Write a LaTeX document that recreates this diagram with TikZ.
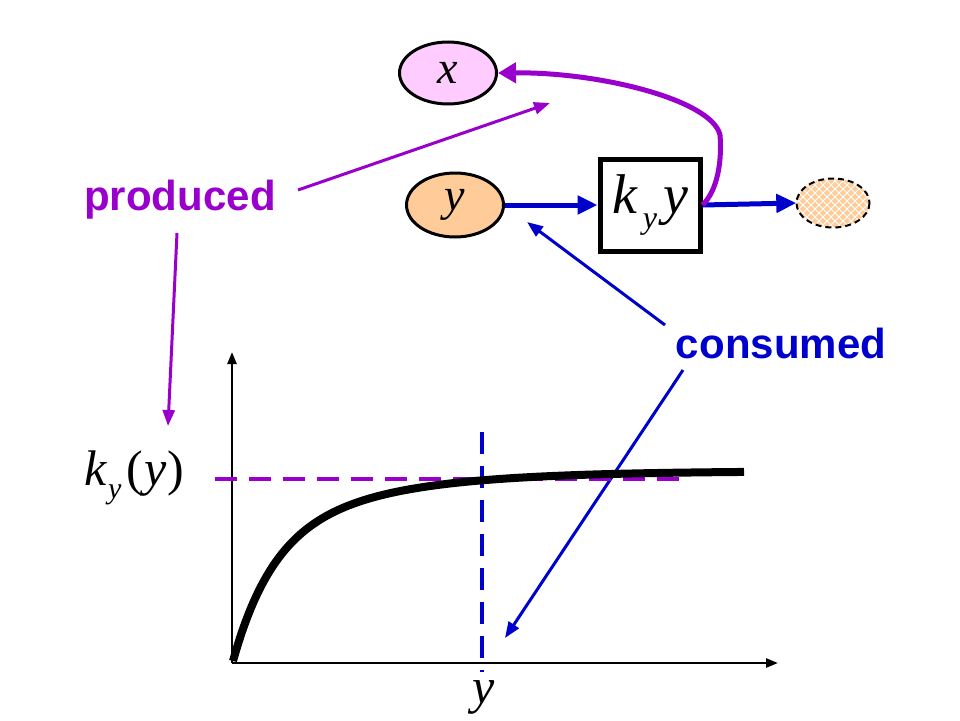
\documentclass[tikz,border=0pt]{standalone}
\usepackage{fontspec}
\setmainfont{Liberation Sans}
\newfontfamily\tms{Liberation Serif}
\usetikzlibrary{arrows.meta,shapes.geometric}
\definecolor{pur}{HTML}{9900CC}
\definecolor{blu}{HTML}{0000CC}
\definecolor{pinkc}{HTML}{FFCCFF}
\definecolor{orc}{HTML}{FFCC99}
\newcommand\itx[2]{{\fontsize{#1}{#1}\selectfont\tms\itshape #2}}
\newcommand\upr[2]{{\fontsize{#1}{#1}\selectfont\tms #2}}
\begin{document}
\begin{tikzpicture}[x=1pt,y=-1pt,
  species/.style={ellipse,draw,line width=3pt,inner sep=0pt},
  bluarrow/.style={draw=blu,line width=5pt,-{Triangle[length=20pt,width=18pt]}},
  purthin/.style={draw=pur,line width=3pt,-{Triangle[length=16pt,width=12pt]}},
  bluthin/.style={draw=blu,line width=3pt,-{Triangle[length=16pt,width=12pt]}},
  lbl/.style={font=\fontsize{42}{42}\selectfont\bfseries}]
\useasboundingbox (0,0) rectangle (960,720);
\fill[white] (0,0) rectangle (960,720);

% species
\node[species,fill=pinkc,minimum width=97,minimum height=62] (x) at (448,73) {\itx{46}{x}};
\node[species,fill=orc,minimum width=97,minimum height=64] (y) at (455,205) {\itx{46}{y}};
\node[draw,line width=5pt,minimum width=100,minimum height=92,inner sep=0pt] (box) at (650,205)
  {\itx{56}{k}\kern6pt\raisebox{-15pt}{\itx{32}{y}}\kern6pt\itx{56}{y}};
\node[ellipse,minimum width=73,minimum height=49,inner sep=0pt] (sink) at (833,203) {};
\begin{scope}
  \clip (833,203) ellipse [x radius=36.5, y radius=24.5];
  \fill[white] (790,175) rectangle (875,230);
  \foreach \i in {0,...,11}{
    \foreach \j in {0,...,7}{
      \fill[orc] ({795+\i*8},{177+\j*8}) ++(0,-3.2) -- ++(3.2,3.2) -- ++(-3.2,3.2) -- ++(-3.2,-3.2) -- cycle;
      \fill[orc] ({799+\i*8},{181+\j*8}) ++(0,-3.2) -- ++(3.2,3.2) -- ++(-3.2,3.2) -- ++(-3.2,-3.2) -- cycle;
    }}
\end{scope}
\draw[line width=2pt,dashed,dash pattern=on 6pt off 4pt] (sink.center) ellipse [x radius=36.5, y radius=24.5];

% reaction arrows
\draw[bluarrow] (y.east) -- (box.west);
\draw[bluarrow] (box.east) -- (sink.west);
\draw[draw=pur,line width=5pt,-{Triangle[length=18pt,width=20pt]}]
  (box.east) .. controls (718,190) and (722,160) .. (720,135)
  .. controls (712,100) and (600,72) .. (x.east);

% labels
\node[lbl,text=pur] (prod) at (180,200) {produced};
\node[lbl,text=blu] (cons) at (781,343) {consumed};
\coordinate (pt1) at (550,103);
\coordinate (pt2) at (168,426);
\coordinate (ct1) at (527,222);
\coordinate (ct2) at (505,638);
\draw[purthin] (298,190) -- (pt1);
\draw[purthin] (177,233) -- (pt2);
\draw[bluthin] (665,325) -- (ct1);
\draw[bluthin] (683,370) -- (ct2);

% graph
\coordinate (O) at (232,663);
\coordinate (ytop) at (232,352);
\coordinate (xend) at (778,663);
\draw[line width=2.5pt,-{Triangle[length=12pt,width=9pt]}] (O) -- (ytop);
\draw[line width=2.5pt,-{Triangle[length=12pt,width=9pt]}] (O) -- (xend);
\draw[pur,line width=3.5pt,dash pattern=on 22pt off 12pt] (215,479) -- (682,479);
\draw[blu,line width=3.5pt,dash pattern=on 22pt off 12pt] (482,432) -- (482,672);
\draw[line width=8pt,line join=round] plot[domain=0:511,samples=120,smooth]
  ({233+\x},{661-(190-110*exp(-\x/38)-80*exp(-\x/115))});
\node (kyy) at (134,478) {\itx{50}{k}\kern2pt\raisebox{-13pt}{\itx{30}{y}}\kern5pt\upr{50}{(}\kern1pt\itx{50}{y}\kern1pt\upr{50}{)}};
\node (ylab) at (484,697) {\itx{50}{y}};
\end{tikzpicture}
\end{document}
